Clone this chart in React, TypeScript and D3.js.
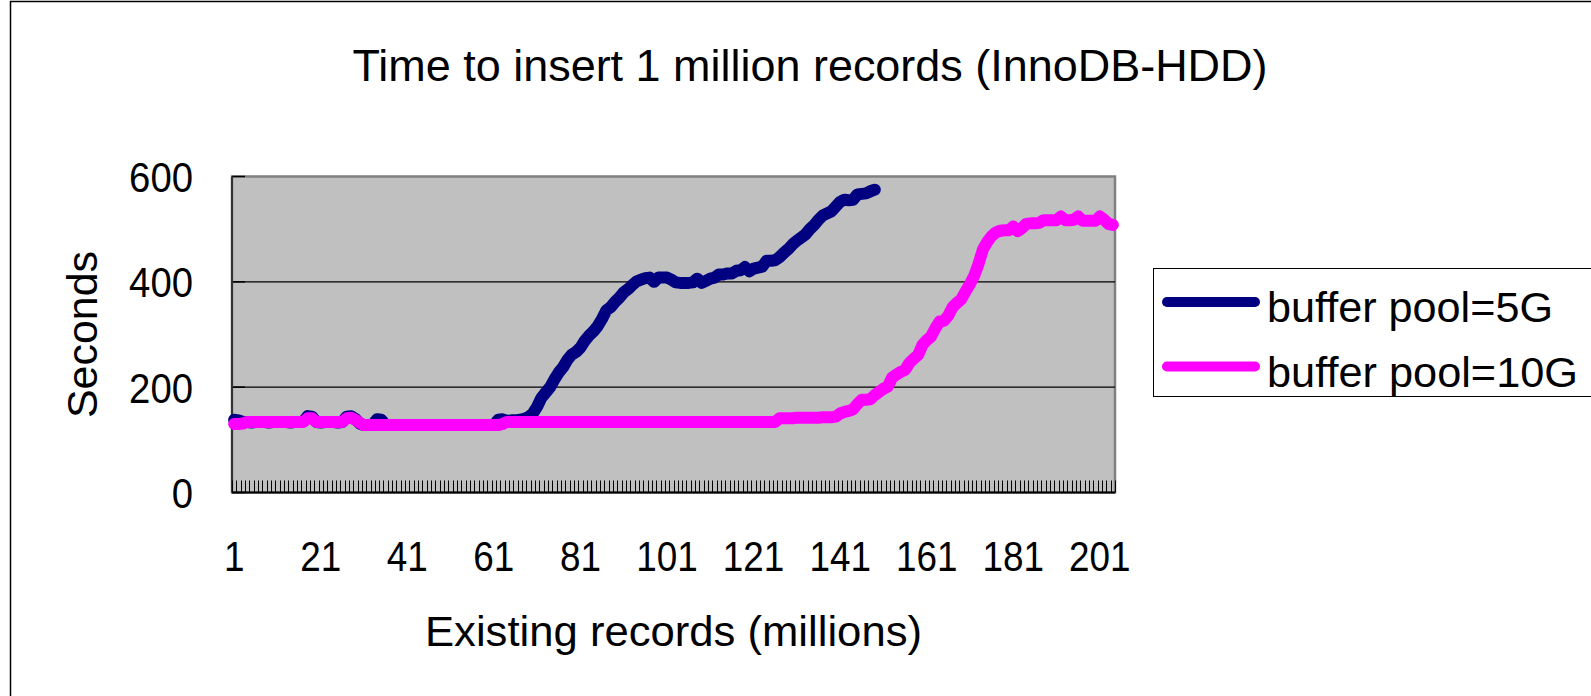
import React from "react";
import * as d3 from "d3";

// categories 1..204 (existing records, millions)
const categories: number[] = d3.range(1, 205);
const xTickLabels = ["1", "21", "41", "61", "81", "101", "121", "141", "161", "181", "201"];
const yTicks = [0, 200, 400, 600];

// buffer pool=5G (seconds)
const pool5G = [
  138, 137, 134, 134, 133, 134, 134, 134, 133, 134, 134, 134, 134, 133, 134, 134, 135,
  145, 144,
  134, 133, 134, 134, 134, 133, 134,
  144, 145, 140, 131, 128, 128, 129, 139, 138,
  128, 128, 128, 128, 128, 128, 128, 128, 128, 128, 128, 128, 128,
  128, 128, 128, 128, 128, 128, 128, 128, 128, 128, 128, 128, 128,
  138, 139, 136, 137, 137, 138, 140, 143,
  150, 163, 180, 190, 200, 215, 228, 238, 252, 262,
  267, 275, 288, 298, 306, 316, 330, 346, 352, 362,
  370, 380, 386, 394, 401, 404, 407, 408, 400, 408,
  408, 408, 404, 399, 398, 398, 398, 399, 406, 398,
  402, 406, 408, 414, 414, 416, 416, 421, 422, 428,
  420, 425, 427, 429, 440, 440, 441, 447, 455, 462,
  471, 478, 484, 490, 500, 508, 518, 526, 530, 534,
  543, 552, 556, 555, 556, 566, 567, 568, 572, 575,
];

// buffer pool=10G (seconds)
const pool10G = [
  130, 130, 131,
  134, 134, 134, 134, 134, 134, 134, 134, 134, 134, 134, 134, 134, 134,
  141, 141,
  134, 134, 134, 134, 134, 134, 134,
  141, 142, 138, 132,
  128, 128, 128, 128, 128, 128, 128, 128, 128, 128, 128, 128, 128, 128, 128, 128,
  128, 128, 128, 128, 128, 128, 128, 128, 128, 128, 128, 128, 128, 128, 128, 128,
  130,
  134, 134, 134, 134, 134, 134, 134, 134, 134, 134, 134, 134, 134, 134, 134, 134,
  134, 134, 134, 134, 134, 134, 134, 134, 134, 134, 134, 134, 134, 134, 134, 134,
  134, 134, 134, 134, 134, 134, 134, 134, 134, 134, 134, 134, 134, 134, 134, 134,
  134, 134, 134, 134, 134, 134, 134, 134, 134, 134, 134, 134, 134, 134, 134,
  141, 141, 141, 141, 142, 142, 142, 142, 142, 142, 143, 143, 143, 144,
  150, 153, 155, 158, 168, 176, 176, 177, 185, 191,
  197, 201, 218, 224, 229, 233, 246, 254, 261, 280,
  289, 296, 312, 325, 326, 336, 352, 360, 367, 382,
  396, 412, 435, 462, 476, 487, 494, 497, 498, 498,
  505, 496, 502, 510, 511, 511, 512, 517, 517, 517,
  517, 524, 517, 517, 518, 524, 516, 516, 516, 516,
  524, 518, 510, 508,
];

const seriesNames = ["buffer pool=5G", "buffer pool=10G"];
const seriesColors = ["#000080", "#ff00ff"];

const FONT = "'Liberation Sans', Arial, sans-serif";

const App = () => {
  const left = 232, right = 1115, top = 176.5, bottom = 492.5;

  const x = d3.scaleBand<number>().domain(categories).range([left, right]).padding(0);
  const cx = (c: number) => (x(c) as number) + x.bandwidth() / 2;
  const y = d3.scaleLinear().domain([0, 600]).range([bottom, top]);

  const line = d3.line<number>()
    .x((_, i) => cx(categories[i]))
    .y(d => y(d));

  const bounds = categories.map(c => x(c) as number).concat([right]);

  return (
    <svg width={1591} height={696} style={{ position: "absolute", left: 0, top: 0 }}
      fontFamily={FONT}>
      <rect x={0} y={0} width={1591} height={696} fill="#fff" />
      <rect x={10.5} y={1.5} width={1700} height={800} fill="none" stroke="#000" strokeWidth={1.5} />

      <text x={810} y={81} fontSize={44} textAnchor="middle" textLength={915}
        lengthAdjust="spacingAndGlyphs">Time to insert 1 million records (InnoDB-HDD)</text>

      {/* plot area */}
      <rect x={left} y={top} width={right - left} height={bottom - top} fill="#c0c0c0"
        stroke="#808080" strokeWidth={2.5} />
      {yTicks.filter(t => t > 0 && t < 600).map(t => (
        <line key={t} x1={left} x2={right} y1={y(t)} y2={y(t)} stroke="#000" strokeWidth={1.2} />
      ))}
      {yTicks.map(t => (
        <line key={"yt" + t} x1={left} x2={left + 13} y1={y(t)} y2={y(t)} stroke="#000" strokeWidth={1.5} />
      ))}
      <line x1={left} x2={left} y1={top} y2={bottom} stroke="#333" strokeWidth={2} />
      <line x1={left} x2={right} y1={bottom} y2={bottom} stroke="#000" strokeWidth={2} />
      {bounds.map((b, i) => (
        <line key={"xt" + i} x1={Math.round(b) + 0.5} x2={Math.round(b) + 0.5} y1={bottom - 12} y2={bottom}
          stroke="#000" strokeWidth={1} />
      ))}

      {/* series */}
      {[pool5G, pool10G].map((s, i) => (
        <path key={i} d={line(s) as string} fill="none" stroke={seriesColors[i]}
          strokeWidth={12} strokeLinejoin="round" strokeLinecap="round" />
      ))}

      {/* y tick labels */}
      {yTicks.map(t => (
        <text key={"yl" + t} x={193} y={y(t) + 15.5} fontSize={43} textAnchor="end"
          textLength={String(t).length * 21.3} lengthAdjust="spacingAndGlyphs">{t}</text>
      ))}
      {/* x tick labels */}
      {xTickLabels.map(l => (
        <text key={"xl" + l} x={cx(+l)} y={571} fontSize={43} textAnchor="middle"
          textLength={l.length * 20.5} lengthAdjust="spacingAndGlyphs">{l}</text>
      ))}

      <text x={(left + right) / 2} y={646} fontSize={43} textAnchor="middle" textLength={497}
        lengthAdjust="spacingAndGlyphs">Existing records (millions)</text>
      <text transform={`translate(97,${(top + bottom) / 2}) rotate(-90)`} fontSize={43}
        textAnchor="middle" textLength={167} lengthAdjust="spacingAndGlyphs">Seconds</text>

      {/* legend */}
      <rect x={1153.5} y={268.5} width={500} height={128} fill="#fff" stroke="#000" strokeWidth={1} />
      {seriesNames.map((n, i) => (
        <g key={n}>
          <line x1={1167} x2={1255} y1={302 + i * 64.5} y2={302 + i * 64.5}
            stroke={seriesColors[i]} strokeWidth={10} strokeLinecap="round" />
          <text x={1267} y={322 + i * 65} fontSize={43} textLength={i === 0 ? 286 : 311}
            lengthAdjust="spacingAndGlyphs">{n}</text>
        </g>
      ))}
    </svg>
  );
};

export default App;
